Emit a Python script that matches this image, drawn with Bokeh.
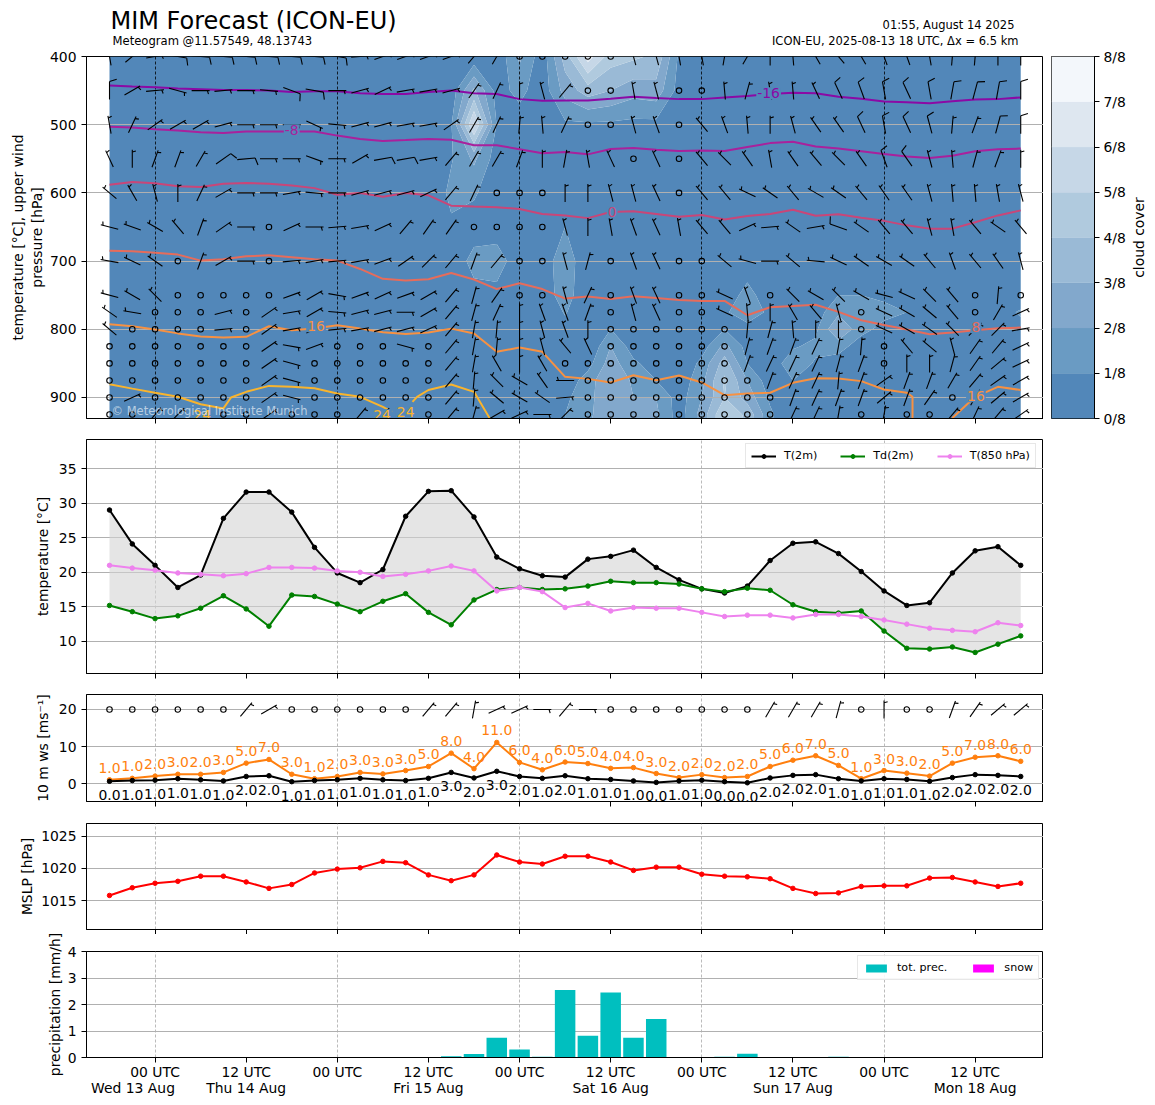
import math
import numpy as np
from bokeh.core.properties import value
from bokeh.embed import file_html
from bokeh.resources import INLINE
from bokeh.layouts import column, row
from bokeh.models import (ColumnDataSource, FixedTicker, Label, Legend, LegendItem, LinearAxis, Range1d)
from bokeh.plotting import figure

N = None
FONT = "DejaVu Sans"
hours = list(range(-6, 115, 3))

T2M = [29.0,24.1,21.0,17.8,19.6,27.8,31.6,31.6,28.7,23.6,19.9,18.5,20.4,28.1,31.7,31.8,28.0,22.2,20.5,19.5,19.3,21.9,22.3,23.2,20.7,18.9,17.6,17.0,18.0,21.7,24.2,24.4,22.7,20.1,17.3,15.2,15.6,19.9,23.1,23.7,21.0]
TD2M = [15.2,14.3,13.3,13.7,14.8,16.6,14.7,12.2,16.7,16.5,15.4,14.3,15.8,16.9,14.2,12.4,16.0,17.5,17.8,17.5,17.6,18.0,18.7,18.5,18.5,18.3,17.6,17.2,17.7,17.4,15.3,14.3,14.1,14.4,11.5,9.0,8.9,9.2,8.4,9.6,10.8]
T850 = [21.0,20.6,20.3,19.9,19.7,19.5,19.8,20.7,20.7,20.6,20.2,20.0,19.4,19.7,20.2,20.9,20.2,17.3,17.8,17.2,14.9,15.5,14.4,14.9,14.8,14.8,14.2,13.6,13.8,13.8,13.4,13.9,13.9,13.6,13.1,12.5,11.9,11.6,11.4,12.7,12.3]
GUST = [1.0,1.4,2.0,2.5,2.5,3.0,5.5,6.5,2.5,1.3,1.9,3.0,2.6,3.5,4.6,8.2,4.0,11.1,5.7,3.7,5.8,5.4,4.1,4.3,2.7,1.6,2.4,1.6,1.9,4.6,6.3,7.5,4.9,1.3,3.5,2.8,2.0,5.5,7.1,7.5,6.0]
WS = [0.6,0.8,0.9,1.3,1.0,0.7,1.9,2.1,0.5,0.8,1.0,1.4,1.0,0.8,1.4,3.0,1.5,3.3,1.9,1.4,2.1,1.3,1.1,0.7,0.3,0.7,0.9,0.5,0.2,1.5,2.2,2.4,1.3,0.7,1.3,1.1,0.6,1.6,2.4,2.2,1.9]
GUST_LABELS = ["1.0","1.0","2.0","3.0","2.0","3.0","5.0","7.0","3.0","1.0","2.0","3.0","3.0","3.0","5.0","8.0","4.0","11.0","6.0","4.0","6.0","5.0","4.0","4.0","3.0","2.0","2.0","2.0","2.0","5.0","6.0","7.0","5.0","1.0","3.0","3.0","2.0","5.0","7.0","8.0","6.0"]
WS_LABELS = ["0.0","1.0","1.0","1.0","1.0","1.0","2.0","2.0","1.0","1.0","1.0","1.0","1.0","1.0","1.0","3.0","2.0","3.0","2.0","1.0","2.0","1.0","1.0","1.0","0.0","1.0","1.0","0.0","0.0","2.0","2.0","2.0","1.0","1.0","1.0","1.0","1.0","2.0","2.0","2.0","2.0"]
MSLP = [1015.8,1017.0,1017.7,1018.0,1018.8,1018.8,1017.9,1016.9,1017.5,1019.3,1019.9,1020.1,1021.1,1020.9,1019.0,1018.1,1019.0,1022.1,1021.0,1020.7,1021.9,1021.9,1021.0,1019.7,1020.2,1020.2,1019.1,1018.8,1018.7,1018.4,1016.9,1016.1,1016.2,1017.2,1017.3,1017.3,1018.5,1018.6,1017.9,1017.2,1017.7]
PRECIP = [0,0,0,0,0,0,0,0,0,0,0,0,0,0,0,0.05,0.13,0.75,0.3,0.03,2.55,0.82,2.45,0.75,1.45,0,0,0.03,0.14,0,0,0,0.03,0,0,0,0,0,0,0,0]
SNOW = [0] * 41

# isotherm pressures [hPa] per time step
ISO_M16 = [442.5,444,445,447,448,449,449,450,452,451,451,454,455,455,452,450,454,455,462.5,465,464.5,464.5,462,459,461,462.5,462.5,460,458,455,453,454,459,462,466,467,468.5,465.5,463,462.5,460]
ISO_M8 = [503,504,506.5,508.4,511,512,510,510,510,510,516,521,524,522.6,521,522,530,530,536,542,540,543.5,535.7,534,536.7,538.7,537.7,538.7,532.8,527,525,532,535,539,543,546.5,549,545.5,539,536,535]
ISO_0 = [588,584,586,590.4,591.4,586.5,585.5,586.5,589,593,602.6,600,605.6,600,603.6,618.7,620,621,623.6,631,633,637,628,627,631,635,632.4,639,634,631,624.6,633.4,631.4,636.3,641,647.6,652.4,652.4,643,633,625.6]
ISO_8 = [684.7,685.6,687.6,690.5,699.3,697.4,693,691.5,694.4,697.4,699.3,711.5,726,728.6,726.7,717.4,727,741,732.5,741,755,752,755.5,751.6,754,757,758.4,758.4,779.4,767.7,766,764,774.5,786.7,793.6,800.4,807.2,804.8,801.4,798.5,797.5]
ISO_16_A_T = hours[:36] + [99.75, 99.75]
ISO_16_A = [792.6,795.5,800.4,806,810.6,812,811,795.5,801.4,799,794,799,804.3,806.8,804.8,799,806.3,833,826.8,833,869.7,872.7,878,867.3,874.6,867.8,878,896.6,894,893,878.5,871.7,872.2,876,888.3,893,899,950]
ISO_16_B_T = [105, 108, 111, 114]
ISO_16_B = [930, 899, 884.4, 889]
ISO_24_A_T = [-6,-3,0,3,6,9,10,12,15,18,21,24,27,30,31.2]
ISO_24_A = [880.5,887,893,899,910,916,900,891.7,883,884.4,886.3,894,899,913.7,921]
ISO_24_B_T = [33.9,34.5,36,39,42,44.1]
ISO_24_B = [906.4,899,889,881,891.7,931]

ISO_LABEL_TEXT = ["-16","-8","0","8","16","16","24","24","24"]
ISO_LABEL_T = [80.8,18.0,60.2,108.1,21.2,108.1,6.2,29.9,33.0]
ISO_LABEL_P = [454,508,628.5,797,795.5,898,926,926,921.5]
ISO_LABEL_COLOR = ["#8b0aa5","#a9219c","#c94678","#e66c5b","#f79142","#f79142","#f9b42d","#f9b42d","#f9b42d"]
ISO_COLOR = {"m16":"#8b0aa5","m8":"#a9219c","0":"#c94678","8":"#e66c5b","16":"#f79142","24":"#f9b42d"}

CLOUD_LEVELS = [0,1,2,3,4,5,6,7,8]
CLOUD_COLORS = ["#5287b9","#6a9bc3","#82a8cc","#9abad6","#b0cade","#c6d7e7","#dee7f0","#f3f7fb"]
CLOUD_TICKS = {k: f"{k}/8" for k in CLOUD_LEVELS}

PRESSURE_CLOUD = [400,450,500,550,600,650,700,750,775,800,825,850,875,900,925,950]
cloud_400 = {16:.3,17:.2,18:2.2,19:.4,20:3.5,21:6.5,22:4.5,23:4.2,24:3.8,25:.8}
cloud_450 = {15:.4,16:3.2,17:.6,18:1.3,19:.4,20:2.4,21:3.5,22:3,23:2.4,24:2.6,25:.6}
cloud_500 = {15:.9,16:6.2,17:.95,18:.5,20:.8,21:.8,22:.8,23:.7,24:.7}
cloud_550 = {15:.9,16:2.2,17:.5,20:.1,21:.3,22:.2}
cloud_600 = {15:1.3,16:1.2}
cloud_650 = {15:.8,16:.3,17:.2,20:1.0}
cloud_700 = {16:1.5,17:1.8,19:.3,20:1.8}
cloud_750 = {16:.5,17:.5,19:.3,20:1.6,28:1.6,31:.3,32:1.0,33:1.0,34:.8,35:.3}
cloud_775 = {20:1.1,27:.8,28:1.8,29:.7,31:.5,32:1.8,33:1.6,34:1.3,35:1.0,36:.3,39:.3,40:1.2}
cloud_800 = {20:.6,22:1.0,27:1.0,28:.5,30:.3,31:.8,32:3.0,33:1.3,34:.7,35:.3,40:.5}
cloud_825 = {22:2,23:.5,26:.5,27:2.3,28:.6,30:.9,31:1.2,32:1.4,33:.5}
cloud_850 = {21:.6,22:2.5,23:1.2,24:.5,26:1.3,27:3.5,28:1.0,29:.5,30:1.5,31:.9,32:.5}
cloud_875 = {20:.3,21:1.5,22:3,23:1.8,24:1,25:.3,26:1.7,27:4.2,28:2,29:.4,30:1}
cloud_900 = {20:.8,21:1.6,22:3,23:2,24:2,25:.5,26:2,27:4,28:2.6,29:.8,30:.3}
cloud_925 = {20:1,21:1.7,22:3,23:2.4,24:2.2,25:.5,26:2.4,27:5,28:3.7,29:1.2}
cloud_950 = {20:1,21:2,22:3,23:2.5,24:2.2,25:.5,26:2.4,27:5,28:4,29:1.2}
CLOUD_ROWS = [cloud_400,cloud_450,cloud_500,cloud_550,cloud_600,cloud_650,cloud_700,cloud_750,cloud_775,cloud_800,cloud_825,cloud_850,cloud_875,cloud_900,cloud_925,cloud_950]

# wind direction [deg] per level; None = calm
wind_400 = [350,50,80,100,95,95,95,95,95,95,100,85,70,70,70,70,40,30,N,N,N,N,N,345,345,350,350,10,30,0,355,330,320,330,340,340,350,5,5,0,0]
wind_450 = [0,60,85,105,90,85,90,95,110,100,90,75,65,80,80,75,35,25,0,345,40,N,N,350,345,N,N,355,15,350,355,335,335,340,350,335,350,10,15,10,0]
wind_500 = [350,25,55,60,60,75,90,90,90,115,95,75,75,80,80,55,30,25,5,355,25,N,N,345,340,N,320,340,355,0,345,325,325,335,350,335,345,5,20,15,0]
wind_550 = [335,0,20,20,30,55,85,90,90,110,90,60,80,80,80,40,30,30,20,0,10,350,335,N,335,N,320,315,325,350,325,320,315,325,340,325,345,355,15,20,0]
wind_600 = [310,330,345,0,25,60,90,90,80,95,90,75,75,75,65,40,25,N,N,N,0,0,345,345,335,N,320,320,295,305,320,300,305,320,325,325,345,355,355,350,345]
wind_650 = [285,290,300,320,20,55,90,N,65,90,85,80,65,40,35,35,N,N,N,N,345,0,350,340,335,350,320,320,65,85,305,80,290,305,320,320,345,350,320,305,320]
wind_700 = [280,295,305,N,20,60,90,N,85,80,85,80,70,55,45,40,20,40,N,N,345,15,N,340,335,N,N,310,285,90,310,275,295,305,300,305,320,340,320,325,345]
wind_750 = [285,300,315,N,N,N,N,N,70,60,100,70,65,70,60,40,15,35,N,N,345,25,N,340,335,N,N,295,340,N,315,300,315,300,285,295,315,320,N,5,N]
wind_775 = [305,280,N,N,N,75,N,55,80,60,95,75,75,90,60,40,15,25,0,340,340,20,N,345,335,N,N,295,355,0,330,320,345,N,295,300,310,320,N,30,65]
wind_800 = [310,N,N,N,N,85,N,55,80,65,85,80,75,75,65,40,10,5,0,345,340,0,N,N,N,N,N,N,5,15,355,0,0,N,295,300,305,315,45,45,80]
wind_825 = [N,N,N,N,N,N,N,55,100,70,N,N,N,105,N,40,10,5,0,345,320,335,N,N,N,N,N,N,15,20,20,25,10,5,N,320,310,345,35,40,65]
wind_850 = [N,N,N,N,N,N,N,55,105,N,N,N,N,N,N,40,10,330,0,330,N,N,N,N,N,N,N,N,20,25,25,25,15,20,N,0,0,15,35,50,65]
wind_875 = [N,N,N,N,N,N,N,55,105,N,N,N,N,N,N,40,5,315,300,325,270,N,N,N,N,N,N,N,N,20,25,25,5,20,55,20,20,30,40,55,60]
wind_900 = [N,65,N,N,N,N,N,55,105,N,N,N,N,N,N,40,5,310,300,305,85,N,N,N,N,N,N,N,N,N,20,25,20,20,50,20,35,N,30,50,60]
wind_925 = [N,N,40,45,55,N,N,55,N,N,N,40,45,N,N,40,15,60,65,90,45,N,N,N,N,N,N,N,N,N,25,25,10,N,10,N,N,40,25,40,55]
wind_10m = [N,N,N,N,N,N,40,60,N,N,N,N,N,N,40,40,10,65,65,90,40,90,N,N,N,N,N,N,N,30,30,30,15,N,0,N,N,20,35,50,50]
WIND_LEVELS = [400,450,500,550,600,650,700,750,775,800,825,850,875,900,925]
WIND_ROWS = [wind_400,wind_450,wind_500,wind_550,wind_600,wind_650,wind_700,wind_750,wind_775,wind_800,wind_825,wind_850,wind_875,wind_900,wind_925]
# time steps with a full barb (10 kt) instead of a half barb (5 kt)
STRONG = {400:[3,4,5,6,7,8,9,10],450:[0,8,9,32,33,34,35,36,37,38,39,40],500:[33,34,35,36,39,40],550:[5,6,12,13,34,35],650:[32]}

X0_TICKS = list(range(0, 109, 24))
X_TICKS = list(range(0, 109, 12))
X_LABELS = {h: ("00 UTC" if h % 24 == 0 else "12 UTC") for h in X_TICKS}
X_BLANK = {h: "" for h in X_TICKS}
DAY_TEXT = ["Wed 13 Aug","Thu 14 Aug","Fri 15 Aug","Sat 16 Aug","Sun 17 Aug","Mon 18 Aug"]
DAY_T = [-2.9,12,36,60,84,108]
HEADER_TEXT = ["MIM Forecast (ICON-EU)", "Meteogram @11.57549, 48.13743", "01:55, August 14 2025", "ICON-EU, 2025-08-13 18 UTC, \u0394x = 6.5 km"]

XR = (-9.03, 117.0)
FRAME_W = 957
PX_X = FRAME_W / (XR[1] - XR[0])
TICK_FONT = "13.9px"
MARK = 4.5


def barbs(times, levels, rows, strong, px_y, sign, length=18.0):
    """Wind barbs built from direction data; px_y = pixels per y unit, sign = +1 if y grows upward."""
    sx0, sy0, sx1, sy1, cx, cy = [], [], [], [], [], []
    for lev, row_ in zip(levels, rows):
        long_ids = strong.get(lev, [])
        for i, (t, d) in enumerate(zip(times, row_)):
            if d is None:
                cx.append(t); cy.append(lev)
                continue
            a = math.radians(d)
            ux, uy = math.sin(a), math.cos(a)      # centre -> tip in px, y up
            px, py = uy, -ux                       # barb side
            def pt(along, side):
                return (t + (along * ux + side * px) / PX_X,
                        lev + sign * (along * uy + side * py) / px_y)
            a0 = pt(-length / 2, 0); a1 = pt(length / 2, 0)
            sx0.append(a0[0]); sy0.append(a0[1]); sx1.append(a1[0]); sy1.append(a1[1])
            if i in long_ids:
                b0 = pt(length / 2, 0); b1 = pt(length / 2 + 0.125 * length, 0.4 * length)
            else:
                st = length / 2 - 0.125 * length
                b0 = pt(st, 0); b1 = pt(st + 0.06 * length, 0.2 * length)
            sx0.append(b0[0]); sy0.append(b0[1]); sx1.append(b1[0]); sy1.append(b1[1])
    return dict(x0=sx0, y0=sy0, x1=sx1, y1=sy1), dict(x=cx, y=cy)


def panel(frame_h, yr, yticks, ylabel, top, bottom, grid_color="#aaaaaa", labels=False, standoff=5):
    p = figure(frame_width=FRAME_W, frame_height=frame_h, x_range=Range1d(*XR), y_range=Range1d(*yr),
               toolbar_location=None, output_backend="svg",
               min_border_left=86, min_border_right=0, min_border_top=top, min_border_bottom=bottom)
    p.xaxis.ticker = FixedTicker(ticks=X_TICKS)
    p.yaxis.ticker = FixedTicker(ticks=yticks)
    p.xgrid.ticker = FixedTicker(ticks=X0_TICKS)
    p.ygrid.ticker = FixedTicker(ticks=yticks)
    p.xgrid.grid_line_color = grid_color
    p.xgrid.grid_line_dash = [3, 2]
    p.xgrid.grid_line_width = 0.8
    p.ygrid.grid_line_color = "#b0b0b0"
    p.ygrid.grid_line_width = 1.2
    for ax in (p.xaxis[0], p.yaxis[0]):
        ax.major_tick_in = 0
        ax.major_tick_out = 5
        ax.minor_tick_line_color = None
        ax.axis_line_color = "black"
        ax.major_tick_line_color = "black"
        ax.major_label_text_font = FONT
        ax.major_label_text_font_size = TICK_FONT
        ax.major_label_text_color = "black"
    p.yaxis.major_label_standoff = 5
    p.xaxis.major_label_standoff = 1
    p.xaxis.major_label_overrides = X_LABELS if labels else X_BLANK
    yax = p.yaxis[0]
    yax.axis_label = ylabel
    yax.axis_label_text_font = FONT
    yax.axis_label_text_font_size = TICK_FONT
    yax.axis_label_text_font_style = "normal"
    yax.axis_label_text_color = "black"
    yax.axis_label_standoff = standoff
    p.outline_line_color = "black"
    p.outline_line_width = 1
    p.background_fill_color = "white"
    return p


def text_strip(frame_w, frame_h, xr, yr, left, top=0, bottom=0):
    s = figure(frame_width=frame_w, frame_height=frame_h, x_range=Range1d(*xr), y_range=Range1d(*yr),
               toolbar_location=None, output_backend="svg", x_axis_type=None, y_axis_type=None,
               min_border_left=left, min_border_right=0, min_border_top=top, min_border_bottom=bottom)
    s.outline_line_color = None
    s.grid.visible = False
    return s


# ---- header
hd = text_strip(FRAME_W, 48, (86, 86 + FRAME_W), (48, 0), 86)
hd.text([110], [20], text=HEADER_TEXT[:1], text_font=value(FONT), text_font_size=value("24px"), text_baseline="middle", text_color="black")
hd.text([112], [40], text=HEADER_TEXT[1:2], text_font=value(FONT), text_font_size=value("11.6px"), text_baseline="middle", text_color="black")
hd.text([1014, 1018], [24, 40], text=HEADER_TEXT[2:], text_font=value(FONT), text_font_size=value("11.5px"), text_baseline="middle", text_align="right", text_color="black")

# ---- top panel
p1 = panel(362, (930.8, 400), [400,500,600,700,800,900], "temperature [\u00b0C], upper wind\npressure [hPa]", 8, 12,
           grid_color="black", standoff=2)
Z = np.array([[row_.get(i, 0.0) for i in range(41)] for row_ in CLOUD_ROWS])
cr = p1.contour(hours, PRESSURE_CLOUD, Z, [-0.5] + CLOUD_LEVELS[1:], fill_color=CLOUD_COLORS, line_color=None)
cr.level = "image"
for ts, ps, c in [(hours, ISO_M16, "m16"), (hours, ISO_M8, "m8"), (hours, ISO_0, "0"), (hours, ISO_8, "8"),
                  (ISO_16_A_T, ISO_16_A, "16"), (ISO_16_B_T, ISO_16_B, "16"),
                  (ISO_24_A_T, ISO_24_A, "24"), (ISO_24_B_T, ISO_24_B, "24")]:
    p1.line(ts, ps, line_color=ISO_COLOR[c], line_width=2)
seg, calm = barbs(hours, WIND_LEVELS, WIND_ROWS, STRONG, 362 / 530.8, -1)
p1.segment("x0", "y0", "x1", "y1", source=ColumnDataSource(seg), line_color="black", line_width=1.1)
p1.scatter("x", "y", source=ColumnDataSource(calm), size=5.5, fill_color=None, line_color="black", line_width=1.1)
p1.text(ISO_LABEL_T, ISO_LABEL_P, text=ISO_LABEL_TEXT, text_color=ISO_LABEL_COLOR, text_font=value(FONT),
        text_font_size=value(TICK_FONT), text_align="center", text_baseline="middle",
        background_fill_color=CLOUD_COLORS[0], padding=1)
p1.add_layout(Label(x=25, y=8, x_units="screen", y_units="screen", text="\u00a9 Meteorological Institute Munich",
                    text_font=FONT, text_font_size="11.5px", text_color="white", text_alpha=0.6, text_baseline="middle"))

# ---- colour bar
cb = figure(frame_width=43, frame_height=362, x_range=Range1d(0, 1), y_range=Range1d(0, 8), toolbar_location=None,
            output_backend="svg", y_axis_location="right",
            min_border_left=8, min_border_right=32, min_border_top=8, min_border_bottom=12)
cb.quad(left=0, right=1, bottom=CLOUD_LEVELS[:-1], top=CLOUD_LEVELS[1:], fill_color=CLOUD_COLORS, line_color=CLOUD_COLORS, line_width=0.3)
cb.xaxis.visible = False
cb.grid.visible = False
cb.yaxis.ticker = FixedTicker(ticks=CLOUD_LEVELS)
cb.yaxis.major_label_overrides = CLOUD_TICKS
cb.yaxis.major_tick_in = 0
cb.yaxis.major_tick_out = 5
cb.yaxis.minor_tick_line_color = None
cb.yaxis.major_label_text_font = FONT
cb.yaxis.major_label_text_font_size = TICK_FONT
cb.yaxis.major_label_text_color = "black"
cb.yaxis.major_label_standoff = 4
cb.outline_line_color = "black"

cb_title = text_strip(24, 362, (0, 24), (362, 0), 0, top=8, bottom=12)
cb_title.text([10], [181], text=["cloud cover"], angle=math.pi / 2, text_font=value(FONT), text_font_size=value(TICK_FONT),
              text_align="center", text_baseline="middle", text_color="black")

# ---- temperature
p2 = panel(234, (5.36, 39.2), [10,15,20,25,30,35], "temperature [\u00b0C]", 9, 12, standoff=5)
p2.varea(hours, T2M, TD2M, fill_color="#d3d3d3", fill_alpha=0.6)
items = []
for vals, color, name in [(T2M, "black", "T(2m)"), (TD2M, "green", "Td(2m)"), (T850, "violet", "T(850 hPa)")]:
    l = p2.line(hours, vals, line_color=color, line_width=2)
    s = p2.scatter(hours, vals, size=MARK, fill_color=color, line_color=color)
    items.append(LegendItem(label=name, renderers=[l, s]))
leg = Legend(items=items, orientation="horizontal", location=(659, 205), label_text_font=FONT, label_text_font_size="11.1px",
             glyph_width=25, glyph_height=10, label_standoff=8, spacing=23, padding=5, margin=0,
             border_line_color="#d0d0d0", background_fill_alpha=0.9, label_height=10, label_text_color="black")
p2.add_layout(leg)

# ---- wind
p3 = panel(107, (-4.86, 24.05), [0,10,20], "10 m ws [ms\u207b\u00b9]", 9, 12, standoff=5)
seg3, calm3 = barbs(hours, [20], [wind_10m], {}, 3.7, 1)
p3.segment("x0", "y0", "x1", "y1", source=ColumnDataSource(seg3), line_color="black", line_width=1.1)
p3.scatter("x", "y", source=ColumnDataSource(calm3), size=5.5, fill_color=None, line_color="black", line_width=1.1)
p3.line(hours, GUST, line_color="#ff7f0e", line_width=2)
p3.scatter(hours, GUST, size=MARK, fill_color="#ff7f0e", line_color="#ff7f0e")
p3.line(hours, WS, line_color="black", line_width=2)
p3.scatter(hours, WS, size=MARK, fill_color="black", line_color="black")
p3.text(hours, GUST, text=GUST_LABELS, text_color="#ff7f0e", text_font=value(FONT), text_font_size=value(TICK_FONT),
        text_align="center", text_baseline="middle", y_offset=-12)
p3.text(hours, WS, text=WS_LABELS, text_color="black", text_font=value(FONT), text_font_size=value(TICK_FONT),
        text_align="center", text_baseline="middle", y_offset=14)

# ---- pressure
p4 = panel(106, (1010.5, 1027), [1015,1020,1025], "MSLP [hPa]", 10, 5, standoff=3)
p4.line(hours, MSLP, line_color="red", line_width=2)
p4.scatter(hours, MSLP, size=MARK, fill_color="red", line_color="red")

# ---- precipitation
p5 = panel(106, (0, 4), [0,1,2,3,4], "precipitation [mm/h]", 17, 40, labels=True, standoff=2)
b1 = p5.vbar(hours, 2.7, PRECIP, fill_color="#00bfbf", line_color=None)
b2 = p5.vbar(hours, 2.7, SNOW, fill_color="magenta", line_color=None)
leg2 = Legend(items=[LegendItem(label="tot. prec.", renderers=[b1]), LegendItem(label="snow", renderers=[b2])],
              orientation="horizontal", location=(771, 77), label_text_font=FONT, label_text_font_size="11.1px",
              glyph_width=26, glyph_height=10, label_standoff=8, spacing=23, padding=5, margin=0,
              border_line_color="#d0d0d0", background_fill_alpha=0.9, label_height=10, label_text_color="black")
p5.add_layout(leg2)
day_axis = LinearAxis(ticker=FixedTicker(ticks=DAY_T), major_label_overrides=dict(zip(DAY_T, DAY_TEXT)),
                      axis_line_color=None, major_tick_line_color=None, minor_tick_line_color=None,
                      major_tick_in=0, major_tick_out=0, major_label_standoff=-3,
                      major_label_text_font=FONT, major_label_text_font_size=TICK_FONT, major_label_text_color="black")
p5.add_layout(day_axis, "below")

layout = column(hd, row(p1, cb, cb_title, spacing=0), p2, p3, p4, p5, spacing=0)
open("out.html", "w").write(file_html(layout, INLINE))
